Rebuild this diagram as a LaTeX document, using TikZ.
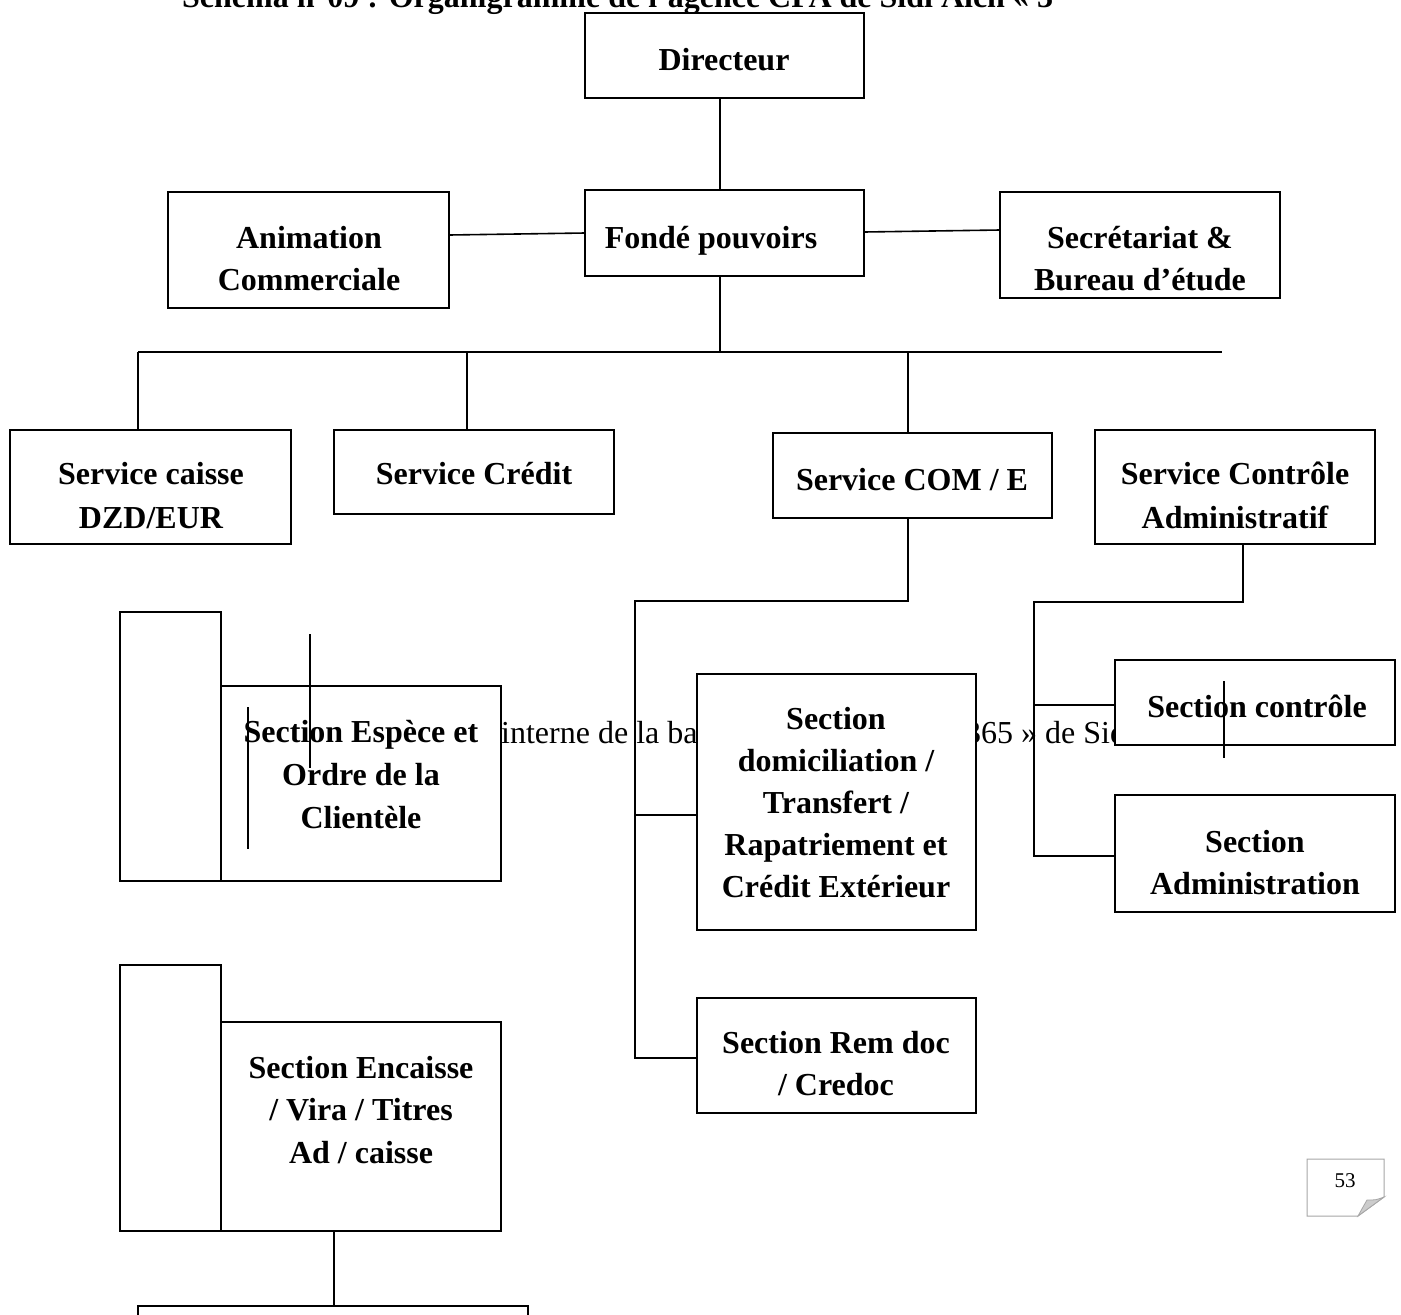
\documentclass[tikz,border=0pt]{standalone}
\usepackage{fontspec}
\setmainfont{Liberation Serif}
\begin{document}
\begin{tikzpicture}[x=1pt,y=-1pt,
  box/.style={draw, line width=1.8pt, fill=white, inner sep=0pt, outer sep=0pt},
  tall/.style={draw, line width=1.8pt, fill=white, inner sep=0pt, outer sep=0pt},
  lbl/.style={font=\bfseries\fontsize{32}{42}\selectfont, inner sep=0pt, anchor=base},
  plain/.style={font=\fontsize{32}{42}\selectfont, inner sep=0pt, anchor=base west},
  ln/.style={line width=1.6pt},
  stray/.style={line width=1.5pt}]
\useasboundingbox (0,0) rectangle (1401,1315);
\clip (0,0) rectangle (1401,1315);
\newcommand\bx[6][box]{\node[#1, minimum width={#5-#3}, minimum height={#6-#4}] (#2) at ({(#3+#5)/2},{(#4+#6)/2}) {};}
\newcommand\lb[4]{\node[lbl] (#1) at (#2,#3) {#4};}

% title (cut at top)
\node[font=\bfseries\fontsize{32}{42}\selectfont, inner sep=0pt, anchor=base west] (title) at (182,7) {Schéma n°09 : Organigramme de l’agence CPA de Sidi Aich « 3};

% background text partly hidden by boxes
\node[plain] (bgA) at (501,743) {interne de la banque CPA « agence};
\node[plain] (bgB) at (965,743) {365 » de Sidi Aich};

% boxes
\bx{dir}{585}{13}{864}{98}
\bx{fonde}{585}{190}{864}{276}
\bx{anim}{168}{192}{449}{308}
\bx{secr}{1000}{192}{1280}{298}
\bx{caisse}{10}{430}{291}{544}
\bx{credit}{334}{430}{614}{514}
\bx{come}{773}{433}{1052}{518}
\bx{ctrl}{1095}{430}{1375}{544}
\bx{dom}{697}{674}{976}{930}
\bx{remdoc}{697}{998}{976}{1113}
\bx{secctrl}{1115}{660}{1395}{745}
\bx{secadm}{1115}{795}{1395}{912}
\bx[tall]{tallA}{120}{612}{221}{881}
\bx{espece}{221}{686}{501}{881}
\bx[tall]{tallB}{120}{965}{221}{1231}
\bx{encaisse}{221}{1022}{501}{1231}
\bx{bottom}{138}{1306}{528}{1400}

% labels
\lb{t1}{724}{70}{Directeur}
\lb{t2}{711}{248}{Fondé pouvoirs}
\lb{t3}{309}{248}{Animation}
\lb{t4}{309}{290}{Commerciale}
\lb{t5}{1140}{248}{Secrétariat \&}
\lb{t6}{1140}{290}{Bureau d’étude}
\lb{t7}{151}{484}{Service caisse}
\lb{t8}{151}{528}{DZD/EUR}
\lb{t9}{474}{484}{Service Crédit}
\lb{t10}{912}{490}{Service COM / E}
\lb{t11}{1235}{484}{Service Contrôle}
\lb{t12}{1235}{528}{Administratif}
\lb{t13}{836}{729}{Section}
\lb{t14}{836}{771}{domiciliation /}
\lb{t15}{836}{813}{Transfert /}
\lb{t16}{836}{855}{Rapatriement et}
\lb{t17}{836}{897}{Crédit Extérieur}
\lb{t18}{836}{1053}{Section Rem doc}
\lb{t19}{836}{1095}{/ Credoc}
\lb{t20}{1257}{717}{Section contrôle}
\lb{t21}{1255}{852}{Section}
\lb{t22}{1255}{894}{Administration}
\lb{t23}{361}{742}{Section Espèce et}
\lb{t24}{361}{785}{Ordre de la}
\lb{t25}{361}{828}{Clientèle}
\lb{t26}{361}{1078}{Section Encaisse}
\lb{t27}{361}{1120}{/ Vira / Titres}
\lb{t28}{361}{1163}{Ad / caisse}

% connector coordinates
\coordinate (vx) at (720,100);
\coordinate (busL) at (138,352);
\coordinate (busR) at (1222,352);
\coordinate (j1) at (467,352);
\coordinate (j2) at (908,352);
\coordinate (a1) at (449,235);
\coordinate (a2) at (585,233);
\coordinate (s1) at (864,232);
\coordinate (s2) at (1000,230);
\coordinate (c1) at (908,601);
\coordinate (c2) at (635,601);
\coordinate (c3) at (635,1058);
\coordinate (c4) at (635,815);
\coordinate (d1) at (1243,602);
\coordinate (d2) at (1034,602);
\coordinate (d3) at (1034,856);
\coordinate (d4) at (1034,705);
\coordinate (e1) at (334,1260);

% connectors
\draw[ln] (dir.south -| vx) -- (fonde.north -| vx);
\draw[ln] (anim.east |- a1) -- (fonde.west |- a2);
\draw[ln] (fonde.east |- s1) -- (secr.west |- s2);
\draw[ln] (fonde.south -| vx) -- (vx |- busL);
\draw[ln] (busL) -- (busR);
\draw[ln] (busL) -- (caisse.north -| busL);
\draw[ln] (j1) -- (credit.north -| j1);
\draw[ln] (j2) -- (come.north -| j2);
\draw[ln] (come.south -| c1) -- (c1) -- (c2) -- (c3) -- (remdoc.west |- c3);
\draw[ln] (c4) -- (dom.west |- c4);
\draw[ln] (ctrl.south -| d1) -- (d1) -- (d2) -- (d3) -- (secadm.west |- d3);
\draw[ln] (d4) -- (secctrl.west |- d4);
\draw[ln] (encaisse.south -| e1) -- (bottom.north -| e1);

% stray vertical strokes
\coordinate (st1a) at (310,634); \coordinate (st1b) at (310,768);
\coordinate (st2a) at (248,707); \coordinate (st2b) at (248,849);
\coordinate (st3a) at (1224,681); \coordinate (st3b) at (1224,758);
\draw[stray] (st1a) -- (st1b);
\draw[stray] (st2a) -- (st2b);
\draw[stray] (st3a) -- (st3b);

% page number corner
\coordinate (p1) at (1307,1159);
\coordinate (p2) at (1384,1159);
\coordinate (p3) at (1384,1197);
\coordinate (p4) at (1358,1216);
\coordinate (p5) at (1307,1216);
\coordinate (p6) at (1367,1200);
\draw[gray!70, line width=1pt, fill=white] (p1) -- (p2) -- (p3) -- (p4) -- (p5) -- cycle;
\draw[gray!70, line width=0.8pt, fill=gray!40] (p3) .. controls (1376,1200) .. (p6) .. controls (1363,1207) .. (p4) -- cycle;
\node[font=\fontsize{21}{24}\selectfont, inner sep=0pt, anchor=base] (pnum) at (1345,1187) {53};
\end{tikzpicture}
\end{document}
